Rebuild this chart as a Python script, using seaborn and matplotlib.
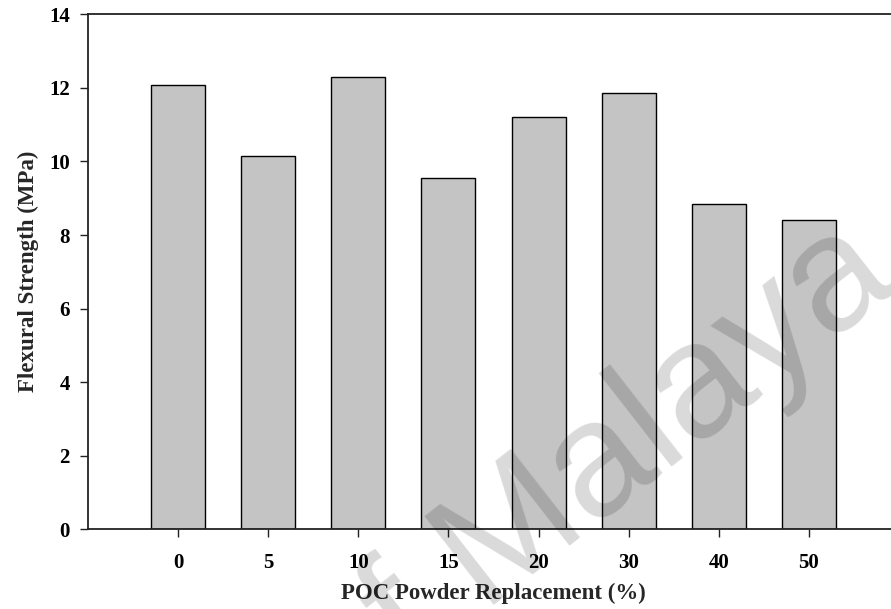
import matplotlib
matplotlib.use("Agg")
import matplotlib.pyplot as plt
import seaborn as sns
import pandas as pd

# Flexural strength vs POC powder replacement
replacement = ["0", "5", "10", "15", "20", "30", "40", "50"]
strength = [12.07, 10.16, 12.29, 9.54, 11.20, 11.87, 8.85, 8.42]

df = pd.DataFrame({"replacement": replacement, "strength": strength})

sns.set_theme(style="white")
plt.rcParams["font.family"] = ["Liberation Serif", "DejaVu Serif"]

fig = plt.figure(figsize=(8.91, 6.09), dpi=100)
ax = fig.add_axes([88 / 891, 0.1309, 811 / 891, 0.8456])

sns.barplot(
    ax=ax,
    data=df,
    x="replacement",
    y="strength",
    order=replacement,
    color="#c4c4c4",
    saturation=1,
    edgecolor="black",
    linewidth=1.0,
    width=0.6,
)

ax.set_xlim(-1, 8)
ax.set_ylim(0, 14)
ax.set_yticks(range(0, 15, 2))

for side in ["left", "bottom", "top"]:
    ax.spines[side].set_visible(True)
    ax.spines[side].set_color("#222222")
    ax.spines[side].set_linewidth(1.3)
ax.spines["right"].set_visible(False)

ax.tick_params(axis="x", bottom=True, direction="out", length=6, width=1, pad=11,
               labelsize=15, colors="#222222", labelcolor="black")
ax.tick_params(axis="y", left=True, direction="out", length=6, width=1, pad=7,
               labelsize=15, colors="#222222", labelcolor="black")
for lbl in ax.get_xticklabels() + ax.get_yticklabels():
    lbl.set_fontweight("bold")

ax.set_xlabel("POC Powder Replacement (%)", fontsize=16.5, fontweight="bold", labelpad=7)
ax.set_ylabel("Flexural Strength (MPa)", fontsize=16.5, fontweight="bold", labelpad=7)

# watermark
fig.text(900 / 891, 322 / 609, "of Malaya", family="Liberation Sans", fontsize=118,
         color="black", alpha=0.15, rotation=38, rotation_mode="anchor",
         ha="right", va="baseline", zorder=10)

fig.savefig("out.png", dpi=100)
